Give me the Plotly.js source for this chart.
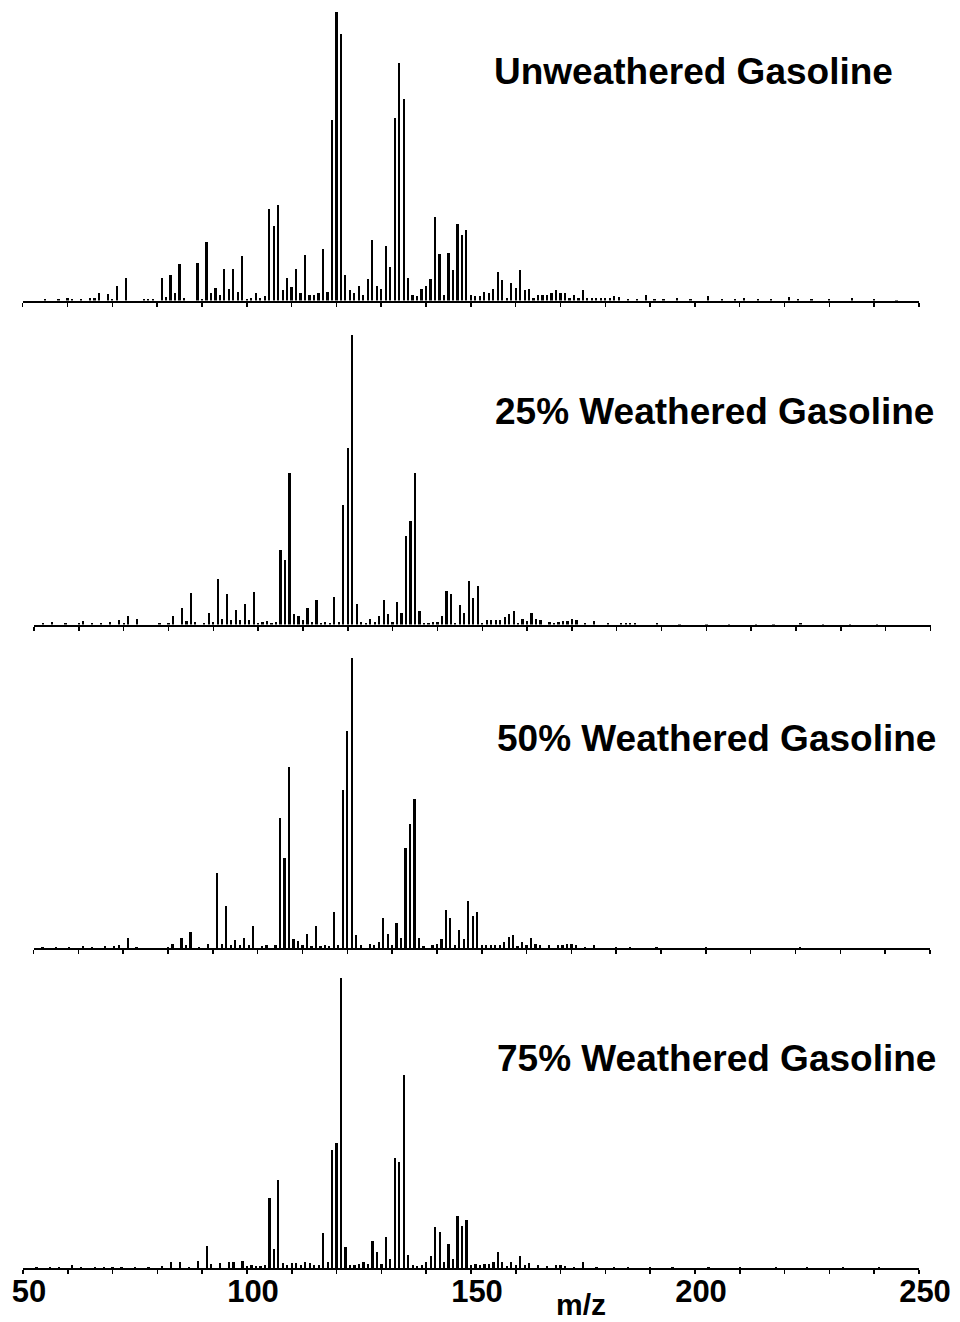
<!DOCTYPE html>
<html>
<head>
<meta charset="utf-8">
<script src="https://cdn.plot.ly/plotly-3.0.1.min.js"></script>
<style>html,body{margin:0;padding:0;background:#fff;}#chart{width:960px;height:1322px;}</style>
</head>
<body>
<div id="chart"></div>
<script>
// ---- Data (m/z and relative intensity, %) ----
const panelLabels = ["Unweathered Gasoline", "25% Weathered Gasoline", "50% Weathered Gasoline", "75% Weathered Gasoline"];
const xTickLabels = ["50", "100", "150", "200", "250"];
const xTitle = "m/z";

const mzUnweathered = [55,58,60,61,63,65,66,67,69,70,71,73,77,78,79,81,82,83,84,85,86,89,90,91,92,93,94,95,96,97,98,99,100,101,102,103,104,105,106,107,108,109,110,111,112,113,114,115,116,117,118,119,120,121,122,123,124,125,126,127,128,129,130,131,132,133,134,135,136,137,138,139,140,141,142,143,144,145,146,147,148,149,150,151,152,153,154,155,156,157,158,159,160,161,162,163,164,165,166,167,168,169,170,171,172,173,174,175,176,177,178,179,180,181,182,183,185,187,189,191,193,196,199,203,206,209,211,214,217,221,223,226,230,235,240,245];
const intUnweathered = [0.4,0.5,0.8,0.4,0.6,0.7,1.0,2.7,2.3,0.6,5.2,7.8,0.5,0.6,0.4,7.8,1.2,9.0,2.5,12.5,0.8,13.0,0.6,20.3,2.5,4.4,2.0,11.0,4.0,11.0,3.0,15.5,0.5,1.0,2.5,0.8,1.5,31.7,25.7,33.0,3.7,7.8,4.7,11.0,2.7,15.6,2.0,2.0,2.5,18.0,3.0,62.4,100,92.3,8.7,3.5,2.5,5.0,2.0,7.5,21.0,5.0,4.0,18.8,11.7,63.2,82.2,70.0,7.8,2.0,1.5,4.0,5.0,7.5,28.8,16.0,2.0,16.4,10.6,26.5,22.8,24.6,2.0,1.5,1.5,3.0,2.5,4.0,9.8,7.0,1.0,6.0,4.5,10.7,3.5,4.0,1.0,1.8,1.8,2.0,2.7,3.5,2.5,2.7,1.0,2.0,1.0,3.5,1.0,1.0,0.8,0.8,0.7,1.0,1.5,1.2,0.5,0.5,2.0,0.4,0.4,0.8,0.4,1.5,0.4,0.6,0.8,0.4,0.4,1.2,0.6,0.4,0.5,1.0,0.4,0.3];

const mzWeathered25 = [52,54,57,60,61,63,65,67,69,70,71,73,78,80,81,83,84,85,86,88,89,90,91,92,93,94,95,96,97,98,99,100,101,102,103,104,105,106,107,108,109,110,111,112,113,114,115,116,117,118,119,120,121,122,123,124,125,126,127,128,129,130,131,132,133,134,135,136,137,138,139,140,141,142,143,144,145,146,147,148,149,150,151,152,153,154,155,156,157,158,159,160,161,162,163,165,166,167,168,169,170,171,173,175,178,181,182,183,184,189,194,200,205,211,215,221,226,232,238];
const intWeathered25 = [0.4,0.7,0.4,0.5,1.2,0.5,0.6,1.0,1.4,0.5,2.9,2.0,0.4,0.5,2.9,5.8,1.2,11.0,0.8,0.5,4.0,0.7,15.6,2.0,10.7,1.5,5.0,1.5,7.2,1.5,11.4,0.6,1.0,1.2,0.5,1.0,25.8,22.4,52.5,3.5,3.0,1.5,5.8,0.8,8.3,0.6,1.0,0.6,9.5,1.0,41.4,61.0,100,7.2,1.0,0.6,2.0,1.0,3.0,8.5,3.8,0.8,7.8,4.0,30.4,35.8,52.5,4.7,0.6,0.6,1.0,1.0,3.0,11.5,10.6,0.6,6.8,4.0,15.2,9.0,13.3,0.6,1.5,1.5,1.5,1.7,2.5,3.7,4.8,0.6,2.0,1.2,3.9,2.0,1.5,1.0,0.5,1.0,1.2,1.2,2.0,1.5,0.5,1.2,0.4,0.5,0.6,0.6,0.5,0.5,0.3,0.3,0.3,0.3,0.3,0.6,0.3,0.3,0.3];

const mzWeathered50 = [52,55,58,61,63,66,68,69,71,73,80,81,83,84,85,87,89,91,92,93,94,95,96,97,98,99,101,102,104,105,106,107,108,109,110,111,112,113,114,115,116,117,118,119,120,121,122,123,125,126,127,128,129,130,131,132,133,134,135,136,137,139,140,141,142,143,144,145,146,147,148,149,150,151,152,153,154,155,156,157,158,159,160,161,162,163,165,167,168,169,170,171,173,175,180,183,189,200,221];
const intWeathered50 = [0.4,0.5,0.4,0.8,0.5,0.7,0.8,1.0,3.4,0.5,0.5,1.5,3.4,1.0,5.5,0.5,1.5,25.9,1.5,14.5,1.2,2.8,1.0,3.4,1.0,7.6,0.8,1.0,1.0,44.8,31.0,62.4,3.0,2.5,1.2,5.0,0.8,7.6,0.6,1.0,0.6,12.4,1.0,54.5,74.8,100,4.5,1.0,1.5,1.0,2.0,10.3,5.0,1.0,8.6,3.5,34.5,42.8,51.4,3.4,0.6,1.0,1.5,3.0,13.0,10.3,1.0,6.2,3.0,16.2,11.0,12.4,1.0,1.0,1.0,1.2,1.2,2.0,3.8,4.5,0.6,2.0,1.0,3.4,1.5,1.0,1.0,1.0,1.2,1.5,1.5,1.2,0.5,1.2,0.4,0.5,0.3,0.3,0.5];

const mzWeathered75 = [53,56,58,61,63,66,68,70,72,75,78,81,83,85,87,89,91,92,94,96,97,99,100,101,102,103,104,105,106,107,108,109,110,111,112,113,114,115,116,117,118,119,120,121,122,123,124,125,126,127,128,129,130,131,132,133,134,135,136,137,138,139,140,141,142,143,144,145,146,147,148,149,150,151,152,153,154,155,156,157,158,159,160,161,162,163,165,167,169,170,171,173,175,178,182,185,190,195,203,210,218,225,233,241];
const intWeathered75 = [0.3,0.4,0.3,1.0,0.4,0.5,0.4,0.5,0.5,0.4,0.5,0.8,2.2,2.0,0.5,2.3,7.6,1.5,1.7,2.0,2.0,2.3,0.8,1.2,0.8,0.6,1.2,24.1,6.6,30.3,1.7,1.0,1.7,1.7,1.0,2.2,1.7,1.0,1.0,12.0,2.0,40.7,43.1,100,7.2,1.2,1.0,1.5,2.0,1.5,9.3,5.5,1.5,10.7,3.0,37.9,36.6,66.6,4.5,1.0,0.8,1.0,2.0,4.0,14.1,12.4,2.0,8.3,3.0,17.9,14.5,16.6,1.0,1.5,1.0,1.5,1.5,2.0,5.5,2.0,0.8,2.0,1.0,4.0,1.0,1.7,1.0,0.8,1.2,1.0,0.6,0.5,2.0,0.4,0.4,0.3,0.3,0.3,0.3,0.3,0.3,0.3,0.3,0.3];

// ---- Build ----
const series = [
  [mzUnweathered, intUnweathered],
  [mzWeathered25, intWeathered25],
  [mzWeathered50, intWeathered50],
  [mzWeathered75, intWeathered75]
];
const H = 1322, W = 960;
// pixel geometry: [baselineY, topY, leftX, rightX]
const geom = [
  [300.5, 12, 22.7, 919],
  [624.5, 335, 34, 930.5],
  [948, 658, 33.5, 930],
  [1268, 978, 23, 919]
];
const labelPos = [[492, 72], [493, 412], [495, 738], [495, 1058]];

const traces = [];
const layout = {
  width: W, height: H,
  margin: {l: 0, r: 0, t: 0, b: 0},
  paper_bgcolor: "#ffffff",
  plot_bgcolor: "rgba(0,0,0,0)",
  showlegend: false,
  bargap: 0,
  annotations: []
};
const tickVals = [];
for (let v = 50; v <= 250; v += 10) tickVals.push(v);
const tickText = tickVals.map(v => (v % 50 === 0 ? "<b>" + xTickLabels[(v - 50) / 50] + "</b>" : ""));

series.forEach((s, i) => {
  const n = i === 0 ? "" : String(i + 1);
  traces.push({
    type: "bar",
    x: s[0], y: s[1],
    width: 0.5,
    marker: {color: "#000000", line: {width: 0}},
    xaxis: "x" + n, yaxis: "y" + n,
    hoverinfo: "x+y"
  });
  const g = geom[i];
  const isBottom = i === 3;
  layout["xaxis" + n] = {
    domain: [g[2] / W, g[3] / W],
    anchor: "y" + n,
    range: [50, 250],
    showline: true, linecolor: "#000", linewidth: 2,
    ticks: "outside", ticklen: 4, tickwidth: 1.5, tickcolor: "#000",
    tickvals: tickVals,
    ticktext: tickText,
    showticklabels: isBottom,
    tickfont: {family: "Liberation Sans, Arial, sans-serif", size: 31, color: "#000"},
    ticklabelshift: 6,
    ticklabelstandoff: -9,
    showgrid: false, zeroline: false
  };
  layout["yaxis" + n] = {
    domain: [1 - g[0] / H, 1 - g[1] / H],
    anchor: "x" + n,
    range: [0, 100],
    visible: false,
    showgrid: false, zeroline: false
  };
  layout.annotations.push({
    xref: "paper", yref: "paper",
    x: labelPos[i][0] / W, y: 1 - labelPos[i][1] / H,
    xanchor: "left", yanchor: "middle",
    text: "<b>" + panelLabels[i] + "</b>",
    showarrow: false,
    font: {family: "Liberation Sans, Arial, sans-serif", size: 37, color: "#000"}
  });
});
layout.annotations.push({
  xref: "paper", yref: "paper",
  x: 581 / W, y: 0,
  xanchor: "center", yanchor: "bottom",
  borderpad: 0,
  text: "<b>" + xTitle + "</b>",
  showarrow: false,
  font: {family: "Liberation Sans, Arial, sans-serif", size: 30, color: "#000"}
});

Plotly.newPlot("chart", traces, layout, {staticPlot: true, displayModeBar: false});
</script>
</body>
</html>
